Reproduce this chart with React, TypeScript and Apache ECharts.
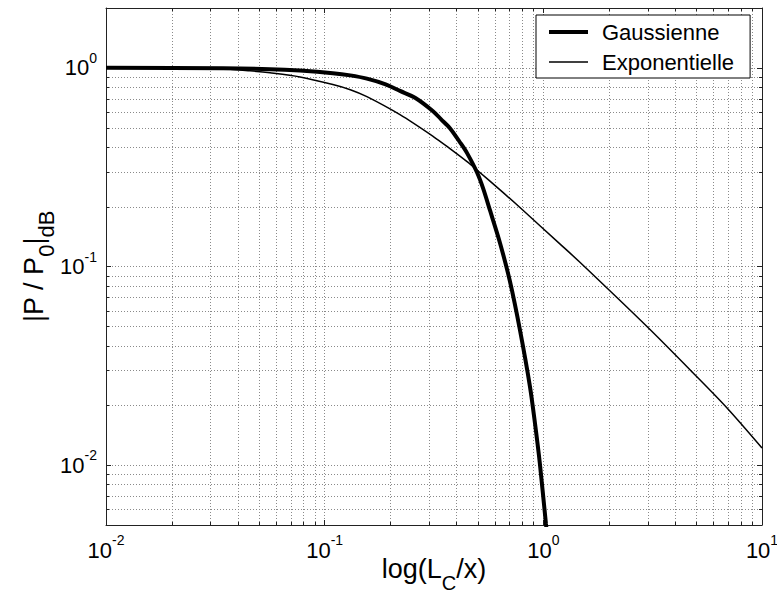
import React, { useEffect, useRef } from "react";
import * as echarts from "echarts";

const X_MIN = 0.01;
const X_MAX = 10;
const Y_MIN = 0.005;
const Y_MAX = 2;

const gaussX = [0.01, 0.0343, 0.0562, 0.0771, 0.109, 0.131, 0.156, 0.19, 0.221, 0.26, 0.313, 0.34, 0.374, 0.42, 0.448, 0.497, 0.53, 0.57, 0.634, 0.703, 0.782, 0.869, 0.916, 0.964, 1.028, 1.045];
const gaussY = [1.0, 0.994, 0.984, 0.968, 0.94, 0.916, 0.882, 0.826, 0.765, 0.705, 0.605, 0.552, 0.497, 0.415, 0.372, 0.298, 0.248, 0.192, 0.131, 0.0845, 0.0478, 0.0248, 0.0162, 0.0102, 0.00506, 0.0043];

const expoX = [0.01, 0.0159, 0.0269, 0.0343, 0.0455, 0.0562, 0.0771, 0.109, 0.131, 0.156, 0.221, 0.313, 0.374, 0.448, 0.497, 0.634, 0.782, 1.19, 1.47, 3.01, 4.83, 6.92, 10];
const expoY = [1.0, 0.998, 0.994, 0.989, 0.966, 0.944, 0.9, 0.824, 0.776, 0.716, 0.581, 0.452, 0.392, 0.337, 0.306, 0.243, 0.198, 0.13, 0.105, 0.0493, 0.0292, 0.0194, 0.0122];

const xMinor = [0.02, 0.03, 0.04, 0.05, 0.06, 0.07, 0.08, 0.09, 0.2, 0.3, 0.4, 0.5, 0.6, 0.7, 0.8, 0.9, 2, 3, 4, 5, 6, 7, 8, 9];
const yMinor = [0.006, 0.007, 0.008, 0.009, 0.02, 0.03, 0.04, 0.05, 0.06, 0.07, 0.08, 0.09, 0.2, 0.3, 0.4, 0.5, 0.6, 0.7, 0.8, 0.9];

const FONT = "Liberation Sans, Arial, Helvetica, sans-serif";
const GRID_COLOR = "#8a8a8a";
const AXIS_COLOR = "#222";

const powLabel = (v: number) => {
  const e = Math.log10(v);
  const r = Math.round(e);
  if (Math.abs(e - r) > 1e-6) return "";
  return `{b|10}{s|${r}}`;
};

const labelRich = {
  b: { fontSize: 22, lineHeight: 34, fontFamily: FONT, color: "#000" },
  s: { fontSize: 14, lineHeight: 12, verticalAlign: "top", fontFamily: FONT, color: "#000" },
};

const crisp = (v: number) => Math.round(v) + 0.5;

export default function App() {
  const ref = useRef<HTMLDivElement>(null);
  useEffect(() => {
    if (!ref.current) return;
    const chart = echarts.init(ref.current, undefined, { renderer: "svg" });
    const tickStyle = { stroke: AXIS_COLOR, lineWidth: 1 };
    const gridStyle = { stroke: GRID_COLOR, lineWidth: 1, lineDash: [1, 2] };
    const option: any = {
      animation: false,
      backgroundColor: "#fff",
      grid: { left: 106, right: 15, top: 8, bottom: 69, containLabel: false, outerBoundsMode: "none" },
      legend: {
        orient: "vertical",
        left: 536,
        top: 15,
        padding: [6, 16, 5, 13],
        itemGap: 8,
        itemWidth: 39,
        itemHeight: 20,
        symbolKeepAspect: true,
        backgroundColor: "#fff",
        borderColor: "#000",
        borderWidth: 1,
        borderRadius: 0,
        textStyle: { fontSize: 22, fontFamily: FONT, color: "#000", padding: [0, 0, 0, 9] },
        data: [
          { name: "Gaussienne", icon: "path://M0,0H39V4H0Z", itemStyle: { color: "#000" } },
          { name: "Exponentielle", icon: "path://M0,0H39V1.5H0Z", itemStyle: { color: "#000" } },
        ],
        z: 20,
      },
      xAxis: [
        {
          type: "log",
          logBase: 10,
          min: X_MIN,
          max: X_MAX,
          position: "bottom",
          name: "{a|log(L}{c|C}{a|/x)}",
          nameLocation: "middle",
          nameGap: 30,
          nameMoveOverlap: false,
          nameTextStyle: {
            rich: {
              a: { fontSize: 27, lineHeight: 30, verticalAlign: "top", fontFamily: FONT, color: "#000" },
              c: { fontSize: 20, lineHeight: 38, verticalAlign: "bottom", fontFamily: FONT, color: "#000" },
            },
          },
          axisLine: { show: true, onZero: false, lineStyle: { color: AXIS_COLOR, width: 1 } },
          axisTick: { show: true, inside: true, length: 5, lineStyle: { color: AXIS_COLOR } },
          axisLabel: { formatter: powLabel, margin: 8, rich: labelRich },
          splitLine: { show: true, lineStyle: { color: GRID_COLOR, type: [1, 2], width: 1 } },
        },
        {
          type: "log",
          logBase: 10,
          min: X_MIN,
          max: X_MAX,
          position: "top",
          axisLine: { show: true, onZero: false, lineStyle: { color: AXIS_COLOR, width: 1 } },
          axisTick: { show: true, inside: true, length: 5, lineStyle: { color: AXIS_COLOR } },
          axisLabel: { show: false },
          splitLine: { show: false },
        },
      ],
      yAxis: [
        {
          type: "log",
          logBase: 10,
          min: Y_MIN,
          max: Y_MAX,
          position: "left",
          name: "{a|\u007cP / P}{c|0}{a|\u007c}{c|dB}",
          nameLocation: "middle",
          nameGap: 49,
          nameMoveOverlap: false,
          nameTextStyle: {
            rich: {
              a: { fontSize: 27, lineHeight: 30, verticalAlign: "top", fontFamily: FONT, color: "#000" },
              c: { fontSize: 22, lineHeight: 37, verticalAlign: "bottom", fontFamily: FONT, color: "#000" },
            },
          },
          axisLine: { show: true, onZero: false, lineStyle: { color: AXIS_COLOR, width: 1 } },
          axisTick: { show: true, inside: true, length: 5, lineStyle: { color: AXIS_COLOR } },
          axisLabel: { formatter: powLabel, margin: 9, rich: labelRich },
          splitLine: { show: true, lineStyle: { color: GRID_COLOR, type: [1, 2], width: 1 } },
        },
        {
          type: "log",
          logBase: 10,
          min: Y_MIN,
          max: Y_MAX,
          position: "right",
          axisLine: { show: true, onZero: false, lineStyle: { color: AXIS_COLOR, width: 1 } },
          axisTick: { show: true, inside: true, length: 5, lineStyle: { color: AXIS_COLOR } },
          axisLabel: { show: false },
          splitLine: { show: false },
        },
      ],
      series: [
        {
          type: "custom",
          name: "xminor",
          silent: true,
          z: 1,
          xAxisIndex: 0,
          yAxisIndex: 0,
          data: xMinor.map((v) => [v, 1]),
          renderItem: (_p: any, api: any) => {
            const v = api.value(0);
            const a = api.coord([v, Y_MIN]);
            const b = api.coord([v, Y_MAX]);
            const x = crisp(a[0]);
            return {
              type: "group",
              children: [
                { type: "line", shape: { x1: x, y1: a[1], x2: x, y2: b[1] }, style: gridStyle },
                { type: "line", shape: { x1: x, y1: a[1], x2: x, y2: a[1] - 3 }, style: tickStyle },
                { type: "line", shape: { x1: x, y1: b[1], x2: x, y2: b[1] + 3 }, style: tickStyle },
              ],
            };
          },
        },
        {
          type: "custom",
          name: "yminor",
          silent: true,
          z: 1,
          xAxisIndex: 0,
          yAxisIndex: 0,
          data: yMinor.map((v) => [1, v]),
          renderItem: (_p: any, api: any) => {
            const v = api.value(1);
            const a = api.coord([X_MIN, v]);
            const b = api.coord([X_MAX, v]);
            const y = crisp(a[1]);
            return {
              type: "group",
              children: [
                { type: "line", shape: { x1: a[0], y1: y, x2: b[0], y2: y }, style: gridStyle },
                { type: "line", shape: { x1: a[0], y1: y, x2: a[0] + 3, y2: y }, style: tickStyle },
                { type: "line", shape: { x1: b[0], y1: y, x2: b[0] - 3, y2: y }, style: tickStyle },
              ],
            };
          },
        },
        {
          type: "line",
          name: "Gaussienne",
          data: gaussX.map((x, i) => [x, gaussY[i]]),
          symbol: "none",
          showSymbol: false,
          smooth: 0.3,
          clip: true,
          z: 5,
          lineStyle: { color: "#000", width: 4 },
          itemStyle: { color: "#000" },
        },
        {
          type: "line",
          name: "Exponentielle",
          data: expoX.map((x, i) => [x, expoY[i]]),
          symbol: "none",
          showSymbol: false,
          smooth: 0.3,
          clip: true,
          z: 5,
          lineStyle: { color: "#000", width: 1.5 },
          itemStyle: { color: "#000" },
        },
      ],
    };
    chart.setOption(option);
    return () => chart.dispose();
  }, []);
  return (
    <div
      ref={ref}
      style={{ position: "absolute", left: 0, top: 0, width: 777, height: 594, background: "#fff" }}
    />
  );
}
